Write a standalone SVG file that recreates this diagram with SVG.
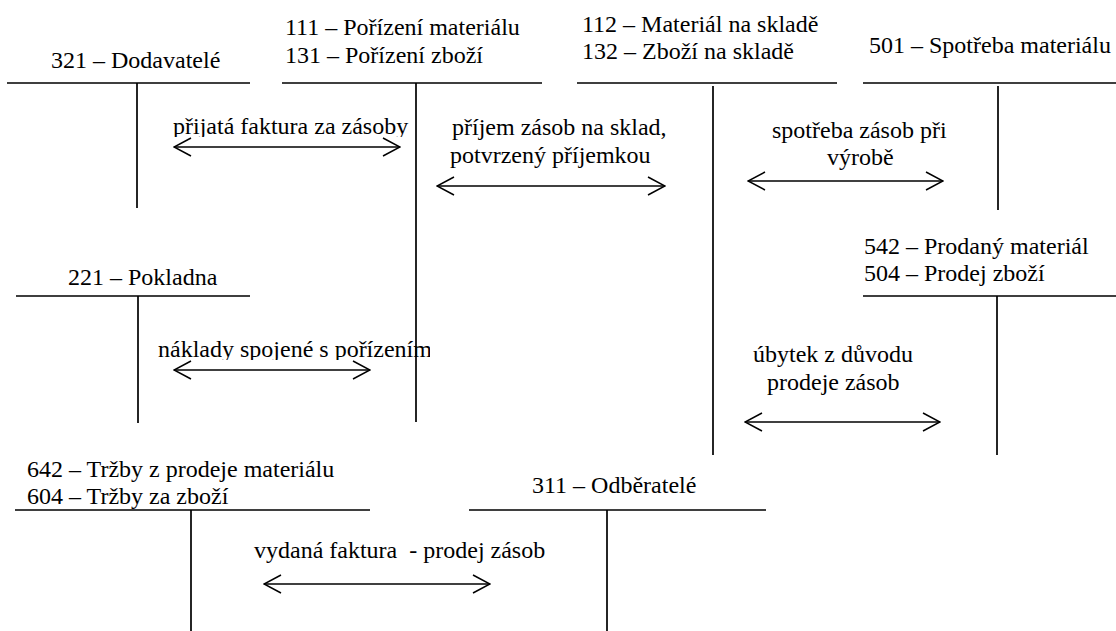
<svg xmlns="http://www.w3.org/2000/svg" width="1116" height="631" viewBox="0 0 1116 631">
<style>
text{font-family:'Liberation Serif','Times New Roman',serif;font-size:24px;fill:#000;white-space:pre}
.t{stroke:#000;stroke-width:1.7;fill:none}
.a{stroke:#000;stroke-width:1.5;fill:none;marker-start:url(#ch);marker-end:url(#ch)}
</style>
<defs>
<marker id="ch" viewBox="-18 -10 19 20" refX="0" refY="0" markerWidth="19" markerHeight="20" markerUnits="userSpaceOnUse" orient="auto-start-reverse">
<path d="M-17,-9 L0,0 L-17,9" fill="none" stroke="#000" stroke-width="1.5"/>
</marker>
<clipPath id="c1"><rect x="150" y="100" width="280" height="37"/></clipPath>
<clipPath id="c2"><rect x="150" y="320" width="280" height="40"/></clipPath>
</defs>
<rect width="1116" height="631" fill="#fff"/>
<g id="acc321">
<text x="51" y="68">321 – Dodavatelé</text>
<path class="t" d="M7,83H250M137,83V208"/>
</g>
<g id="acc111">
<text x="285" y="35">111 – Pořízení materiálu</text>
<text x="285" y="63">131 – Pořízení zboží</text>
<path class="t" d="M282,83H542M416,83V422"/>
</g>
<g id="acc112">
<text x="582" y="32">112 – Materiál na skladě</text>
<text x="582" y="59">132 – Zboží na skladě</text>
<path class="t" d="M577,83H837M713,86V455"/>
</g>
<g id="acc501">
<text x="869" y="53">501 – Spotřeba materiálu</text>
<path class="t" d="M863,83H1116M998,86V210"/>
</g>
<g id="acc221">
<text x="68" y="285">221 – Pokladna</text>
<path class="t" d="M16,296H250M138,296V423"/>
</g>
<g id="acc542">
<text x="864" y="254">542 – Prodaný materiál</text>
<text x="864" y="281">504 – Prodej zboží</text>
<path class="t" d="M863,296H1116M997,296V455"/>
</g>
<g id="acc642">
<text x="27" y="477">642 – Tržby z prodeje materiálu</text>
<text x="27" y="504">604 – Tržby za zboží</text>
<path class="t" d="M15,510H370M191,510V631"/>
</g>
<g id="acc311">
<text x="532" y="493">311 – Odběratelé</text>
<path class="t" d="M469,510H766M607,510V631"/>
</g>
<g id="connectors">
<path class="a" d="M174,147H400"/>
<path class="a" d="M437,186H665"/>
<path class="a" d="M748,181H943"/>
<path class="a" d="M174,370H370"/>
<path class="a" d="M745,422H940"/>
<path class="a" d="M264,584H490"/>
</g>
<g id="labels">
<text x="173" y="134" clip-path="url(#c1)">přijatá faktura za zásoby</text>
<text x="452" y="135">příjem zásob na sklad,</text>
<text x="450" y="163">potvrzený příjemkou</text>
<text x="772" y="138">spotřeba zásob při</text>
<text x="827" y="165">výrobě</text>
<text x="158" y="357" clip-path="url(#c2)">náklady spojené s pořízením</text>
<text x="753" y="362">úbytek z důvodu</text>
<text x="767" y="390">prodeje zásob</text>
<text x="254" y="558">vydaná faktura  - prodej zásob</text>
</g>
</svg>
